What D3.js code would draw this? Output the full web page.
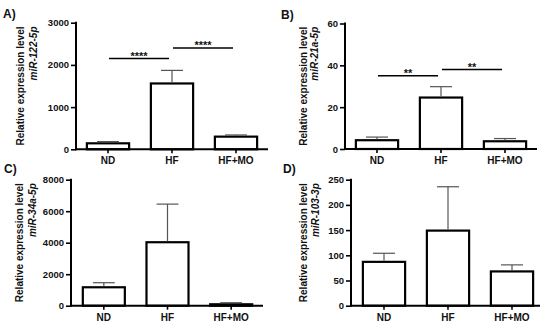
<!DOCTYPE html>
<html>
<head>
<meta charset="utf-8">
<script src="https://cdn.jsdelivr.net/npm/d3@7"></script>
<style>
  body { margin: 0; background: #fff; }
  text { font-family: "Liberation Sans", Arial, sans-serif; font-weight: bold; fill: #111; }
</style>
</head>
<body>
<div id="chart"></div>
<script>
// data
var categories = ["ND", "HF", "HF+MO"];
var panelLetters = ["A)", "B)", "C)", "D)"];
var miRNAs = ["miR-122-5p", "miR-21a-5p", "miR-34a-5p", "miR-103-3p"];
var yTitle = "Relative expression level";

var meansA = [142, 1560, 300],  semA = [40, 310, 40];
var meansB = [4.2, 24.6, 3.7],   semB = [1.5, 5.2, 1.3];
var meansC = [1170, 4030, 90],   semC = [290, 2420, 100];
var meansD = [87, 149, 68],      semD = [17, 87, 13];

var ticksA = [0, 1000, 2000, 3000];
var ticksB = [0, 20, 40, 60];
var ticksC = [0, 2000, 4000, 6000, 8000];
var ticksD = [0, 50, 100, 150, 200, 250];

// significance brackets: from, to, height (data units), label
var sigA = [["ND", "HF", 2150, "****"], ["HF", "HF+MO", 2400, "****"]];
var sigB = [["ND", "HF", 35, "**"], ["HF", "HF+MO", 38, "**"]];

var svg = d3.select("#chart").append("svg")
    .attr("width", 550)
    .attr("height", 335);

// one layout per panel (pixel positions)
var panels = [
  {means: meansA, sem: semA, ticks: ticksA, sig: sigA, axisX: 76, xr: [76, 268], xEnd: 268, yr: [149.3, 22.7], letter: [3, 18], t1: 24, t2: 37},
  {means: meansB, sem: semB, ticks: ticksB, sig: sigB, axisX: 345, xr: [345, 537], xEnd: 537, yr: [149, 23.5], letter: [281, 19], t1: 307, t2: 318},
  {means: meansC, sem: semC, ticks: ticksC, sig: [], axisX: 71, xr: [72, 263], xEnd: 263, yr: [305.7, 179.7], letter: [4, 173], t1: 23, t2: 36},
  {means: meansD, sem: semD, ticks: ticksD, sig: [], axisX: 351, xr: [352, 544], xEnd: 540, yr: [305.7, 179.7], letter: [283, 173], t1: 307, t2: 319}
];

panels.forEach(function(p, i) {
  var g = svg.append("g");
  var yMax = p.ticks[p.ticks.length - 1];

  var x = d3.scaleBand()
      .domain(categories)
      .range(p.xr)
      .paddingInner(0.34)
      .paddingOuter(0.17);
  var y = d3.scaleLinear()
      .domain([0, yMax])
      .range(p.yr);

  // bars
  g.selectAll("rect.bar")
      .data(categories)
      .enter()
      .append("rect")
        .attr("x", function(d) { return x(d); })
        .attr("y", function(d, j) { return y(p.means[j]); })
        .attr("width", x.bandwidth())
        .attr("height", function(d, j) { return y(0) - y(p.means[j]); })
        .style("fill", "#fff")
        .style("stroke", "#000")
        .style("stroke-width", 2.2);

  // upper error bars
  var cap = x.bandwidth() * 0.26;
  categories.forEach(function(c, j) {
    var cx = x(c) + x.bandwidth() / 2;
    var top = y(p.means[j] + p.sem[j]);
    g.append("line")
        .attr("x1", cx).attr("x2", cx)
        .attr("y1", y(p.means[j]) - 1).attr("y2", top)
        .style("stroke", "#555").style("stroke-width", 1.2);
    g.append("line")
        .attr("x1", cx - cap).attr("x2", cx + cap)
        .attr("y1", top).attr("y2", top)
        .style("stroke", "#555").style("stroke-width", 1.2);
  });

  // y axis
  var yAxis = g.append("g")
      .attr("transform", "translate(" + p.axisX + ",0)")
      .call(d3.axisLeft(y).tickValues(p.ticks).tickFormat(d3.format("d"))
        .tickSize(5).tickPadding(2).tickSizeOuter(0));
  yAxis.select(".domain").attr("d", "M0," + (y(yMax) - 1) + "V" + (y(0) + 1)).style("stroke-width", 2);
  yAxis.selectAll(".tick line").style("stroke-width", 1.6);
  yAxis.selectAll("text").style("font-size", "9.5px").attr("fill", "#111");

  // x axis
  var xAxis = g.append("g")
      .attr("transform", "translate(0," + y(0) + ")")
      .call(d3.axisBottom(x).tickSize(4).tickPadding(4).tickSizeOuter(0));
  xAxis.select(".domain").attr("d", "M" + (p.axisX - 1) + ",0H" + p.xEnd).style("stroke-width", 2);
  xAxis.selectAll(".tick line").style("stroke-width", 1.6);
  xAxis.selectAll("text").style("font-size", "10px").attr("fill", "#111");

  // significance lines
  p.sig.forEach(function(s) {
    var x1 = x(s[0]) + x.bandwidth() / 2 + 1;
    var x2 = x(s[1]) + x.bandwidth() / 2 - 3;
    g.append("line")
        .attr("x1", x1).attr("x2", x2)
        .attr("y1", y(s[2])).attr("y2", y(s[2]))
        .style("stroke", "#000").style("stroke-width", 1.5);
    g.append("text")
        .attr("x", (x1 + x2) / 2)
        .attr("y", y(s[2]) + 1)
        .attr("text-anchor", "middle")
        .style("font-size", "11px")
        .text(s[3]);
  });

  // axis title, two lines
  var midY = (p.yr[0] + p.yr[1]) / 2;
  var t1 = g.append("text")
      .attr("transform", "translate(" + p.t1 + "," + midY + ") rotate(-90)")
      .attr("text-anchor", "middle")
      .style("font-size", "10px")
      .text(yTitle);
  var half = t1.node().getComputedTextLength() / 2;
  g.append("text")
      .attr("transform", "translate(" + p.t2 + "," + (midY - half) + ") rotate(-90)")
      .attr("text-anchor", "end")
      .style("font-size", "10px")
      .style("font-style", "italic")
      .text(miRNAs[i]);

  // panel letter
  g.append("text")
      .attr("x", p.letter[0])
      .attr("y", p.letter[1])
      .style("font-size", "12px")
      .text(panelLetters[i]);
});
</script>
</body>
</html>
